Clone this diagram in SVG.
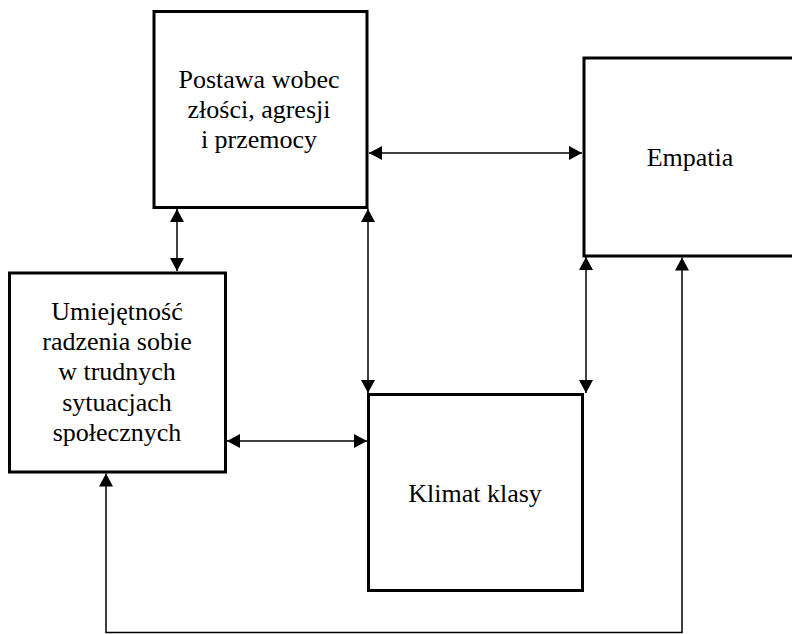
<svg xmlns="http://www.w3.org/2000/svg" width="792" height="634" viewBox="0 0 792 634">
<style>
.box{fill:#fff;stroke:#000;stroke-width:3}
.lbl{font-size:26px;fill:#000;text-anchor:middle}
.con{fill:none;stroke:#000;stroke-width:1.5}
</style>
<defs>
<marker id="ah" markerUnits="userSpaceOnUse" markerWidth="13" markerHeight="14" refX="13" refY="7" orient="auto-start-reverse" viewBox="0 0 13 14">
<path d="M0,0 L13,7 L0,14 Z" fill="#000"/>
</marker>
</defs>
<rect width="792" height="634" fill="#fff"/>
<g font-family="'Liberation Serif', 'Times New Roman', Times, serif">
<g id="postawa">
<rect class="box" x="154" y="11.5" width="213" height="196"/>
<text class="lbl" x="259" y="88">Postawa wobec</text>
<text class="lbl" x="259" y="118">złości, agresji</text>
<text class="lbl" x="259" y="148">i przemocy</text>
</g>
<g id="empatia">
<rect class="box" x="584" y="58" width="215" height="198"/>
<text class="lbl" x="690" y="166">Empatia</text>
</g>
<g id="umiejetnosc">
<rect class="box" x="9.5" y="273" width="216" height="199"/>
<text class="lbl" x="117" y="320">Umiejętność</text>
<text class="lbl" x="117" y="350">radzenia sobie</text>
<text class="lbl" x="117" y="380">w trudnych</text>
<text class="lbl" x="117" y="411">sytuacjach</text>
<text class="lbl" x="117" y="441">społecznych</text>
</g>
<g id="klimat">
<rect class="box" x="368.5" y="394.5" width="214" height="196"/>
<text class="lbl" x="475" y="502">Klimat klasy</text>
</g>
</g>
<g id="connectors">
<line class="con" x1="369" y1="153" x2="582" y2="153" marker-start="url(#ah)" marker-end="url(#ah)"/>
<line class="con" x1="177" y1="209" x2="177" y2="271" marker-start="url(#ah)" marker-end="url(#ah)"/>
<line class="con" x1="368" y1="209" x2="368" y2="393" marker-start="url(#ah)" marker-end="url(#ah)"/>
<line class="con" x1="586" y1="257" x2="586" y2="393" marker-start="url(#ah)" marker-end="url(#ah)"/>
<line class="con" x1="227" y1="441" x2="367" y2="441" marker-start="url(#ah)" marker-end="url(#ah)"/>
<polyline class="con" points="682,257.5 682,632.5 106,632.5 106,473.5" marker-start="url(#ah)" marker-end="url(#ah)"/>
</g>
</svg>
